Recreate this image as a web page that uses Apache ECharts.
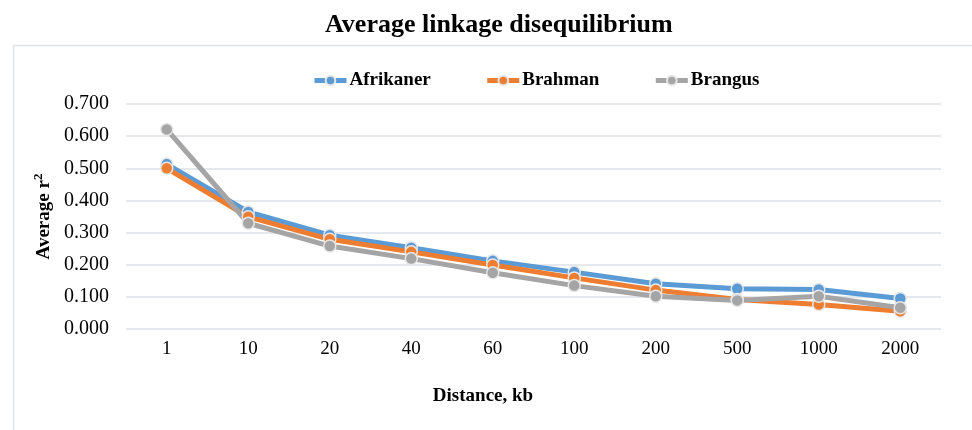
<!DOCTYPE html>
<html>
<head>
<meta charset="utf-8">
<script src="https://cdn.jsdelivr.net/npm/echarts@6/dist/echarts.min.js"></script>
<style>
html, body { margin: 0; padding: 0; background: #fff; }
#chart { width: 972px; height: 430px; }
</style>
</head>
<body>
<div id="chart"></div>
<script>
// Distance classes (kb) and average r² per breed
const distances = ['1', '10', '20', '40', '60', '100', '200', '500', '1000', '2000'];
const afrikaner = [0.513, 0.364, 0.292, 0.253, 0.212, 0.177, 0.141, 0.125, 0.123, 0.095];
const brahman   = [0.500, 0.349, 0.279, 0.240, 0.199, 0.159, 0.121, 0.092, 0.076, 0.055];
const brangus   = [0.621, 0.329, 0.258, 0.219, 0.175, 0.135, 0.102, 0.089, 0.102, 0.066];

const serif = '"Liberation Serif", "Times New Roman", serif';

function lineSeries(name, color, data) {
  return {
    name: name,
    type: 'line',
    data: data,
    symbol: 'circle',
    symbolSize: 12,
    lineStyle: { color: color, width: 5 },
    itemStyle: { color: color, borderColor: '#e6e6e6', borderWidth: 1.5 },
    emphasis: { disabled: true },
    animation: false
  };
}

const chart = echarts.init(document.getElementById('chart'), null, { renderer: 'canvas' });
chart.setOption({
  backgroundColor: '#fff',
  graphic: [{
    type: 'rect',
    shape: { x: 13.5, y: 45.5, width: 980, height: 420 },
    style: { fill: 'none', stroke: '#dfe3e8', lineWidth: 1.5 },
    silent: true
  }, {
    // x-axis title, centred on the chart frame
    type: 'text',
    x: 483,
    y: 396,
    style: {
      text: 'Distance, kb',
      align: 'center',
      verticalAlign: 'middle',
      font: 'bold 19px ' + serif,
      fill: '#000'
    },
    silent: true
  }],
  title: {
    text: 'Average linkage disequilibrium',
    left: 320,
    top: 7,
    textStyle: { fontFamily: serif, fontSize: 26, fontWeight: 'bold', color: '#000' }
  },
  legend: {
    top: 66,
    left: 307,
    itemGap: 54,
    itemWidth: 32,
    itemHeight: 12,
    lineStyle: { width: 5 },
    textStyle: { fontFamily: serif, fontSize: 19, fontWeight: 'bold', color: '#000', padding: [0, 0, 0, -2] },
    data: ['Afrikaner', 'Brahman', 'Brangus']
  },
  grid: { left: 126, right: 31, top: 104, bottom: 101, containLabel: false },
  xAxis: {
    type: 'category',
    data: distances,
    boundaryGap: true,
    axisLine: { show: false },
    axisTick: { show: false },
    axisLabel: { fontFamily: serif, fontSize: 19, color: '#000', margin: 11 }
  },
  yAxis: {
    type: 'value',
    min: 0,
    max: 0.7,
    interval: 0.1,
    axisLine: { show: false },
    axisTick: { show: false },
    splitLine: { lineStyle: { color: '#dde2e8', width: 1.5 } },
    axisLabel: {
      fontFamily: serif, fontSize: 20, color: '#000', margin: 17,
      formatter: v => v.toFixed(3)
    },
    name: 'Average r{sup|2}',
    nameLocation: 'middle',
    nameGap: 65,
    nameRotate: 90,
    nameTextStyle: {
      fontFamily: serif, fontSize: 19, fontWeight: 'bold', color: '#000',
      rich: {
        sup: { fontFamily: serif, fontSize: 13, fontWeight: 'bold', color: '#000', verticalAlign: 'top', padding: [0, 0, 9, 0] }
      }
    }
  },
  series: [
    lineSeries('Afrikaner', '#5b9bd5', afrikaner),
    lineSeries('Brahman', '#ed7d31', brahman),
    lineSeries('Brangus', '#a5a5a5', brangus)
  ]
});
</script>
</body>
</html>
